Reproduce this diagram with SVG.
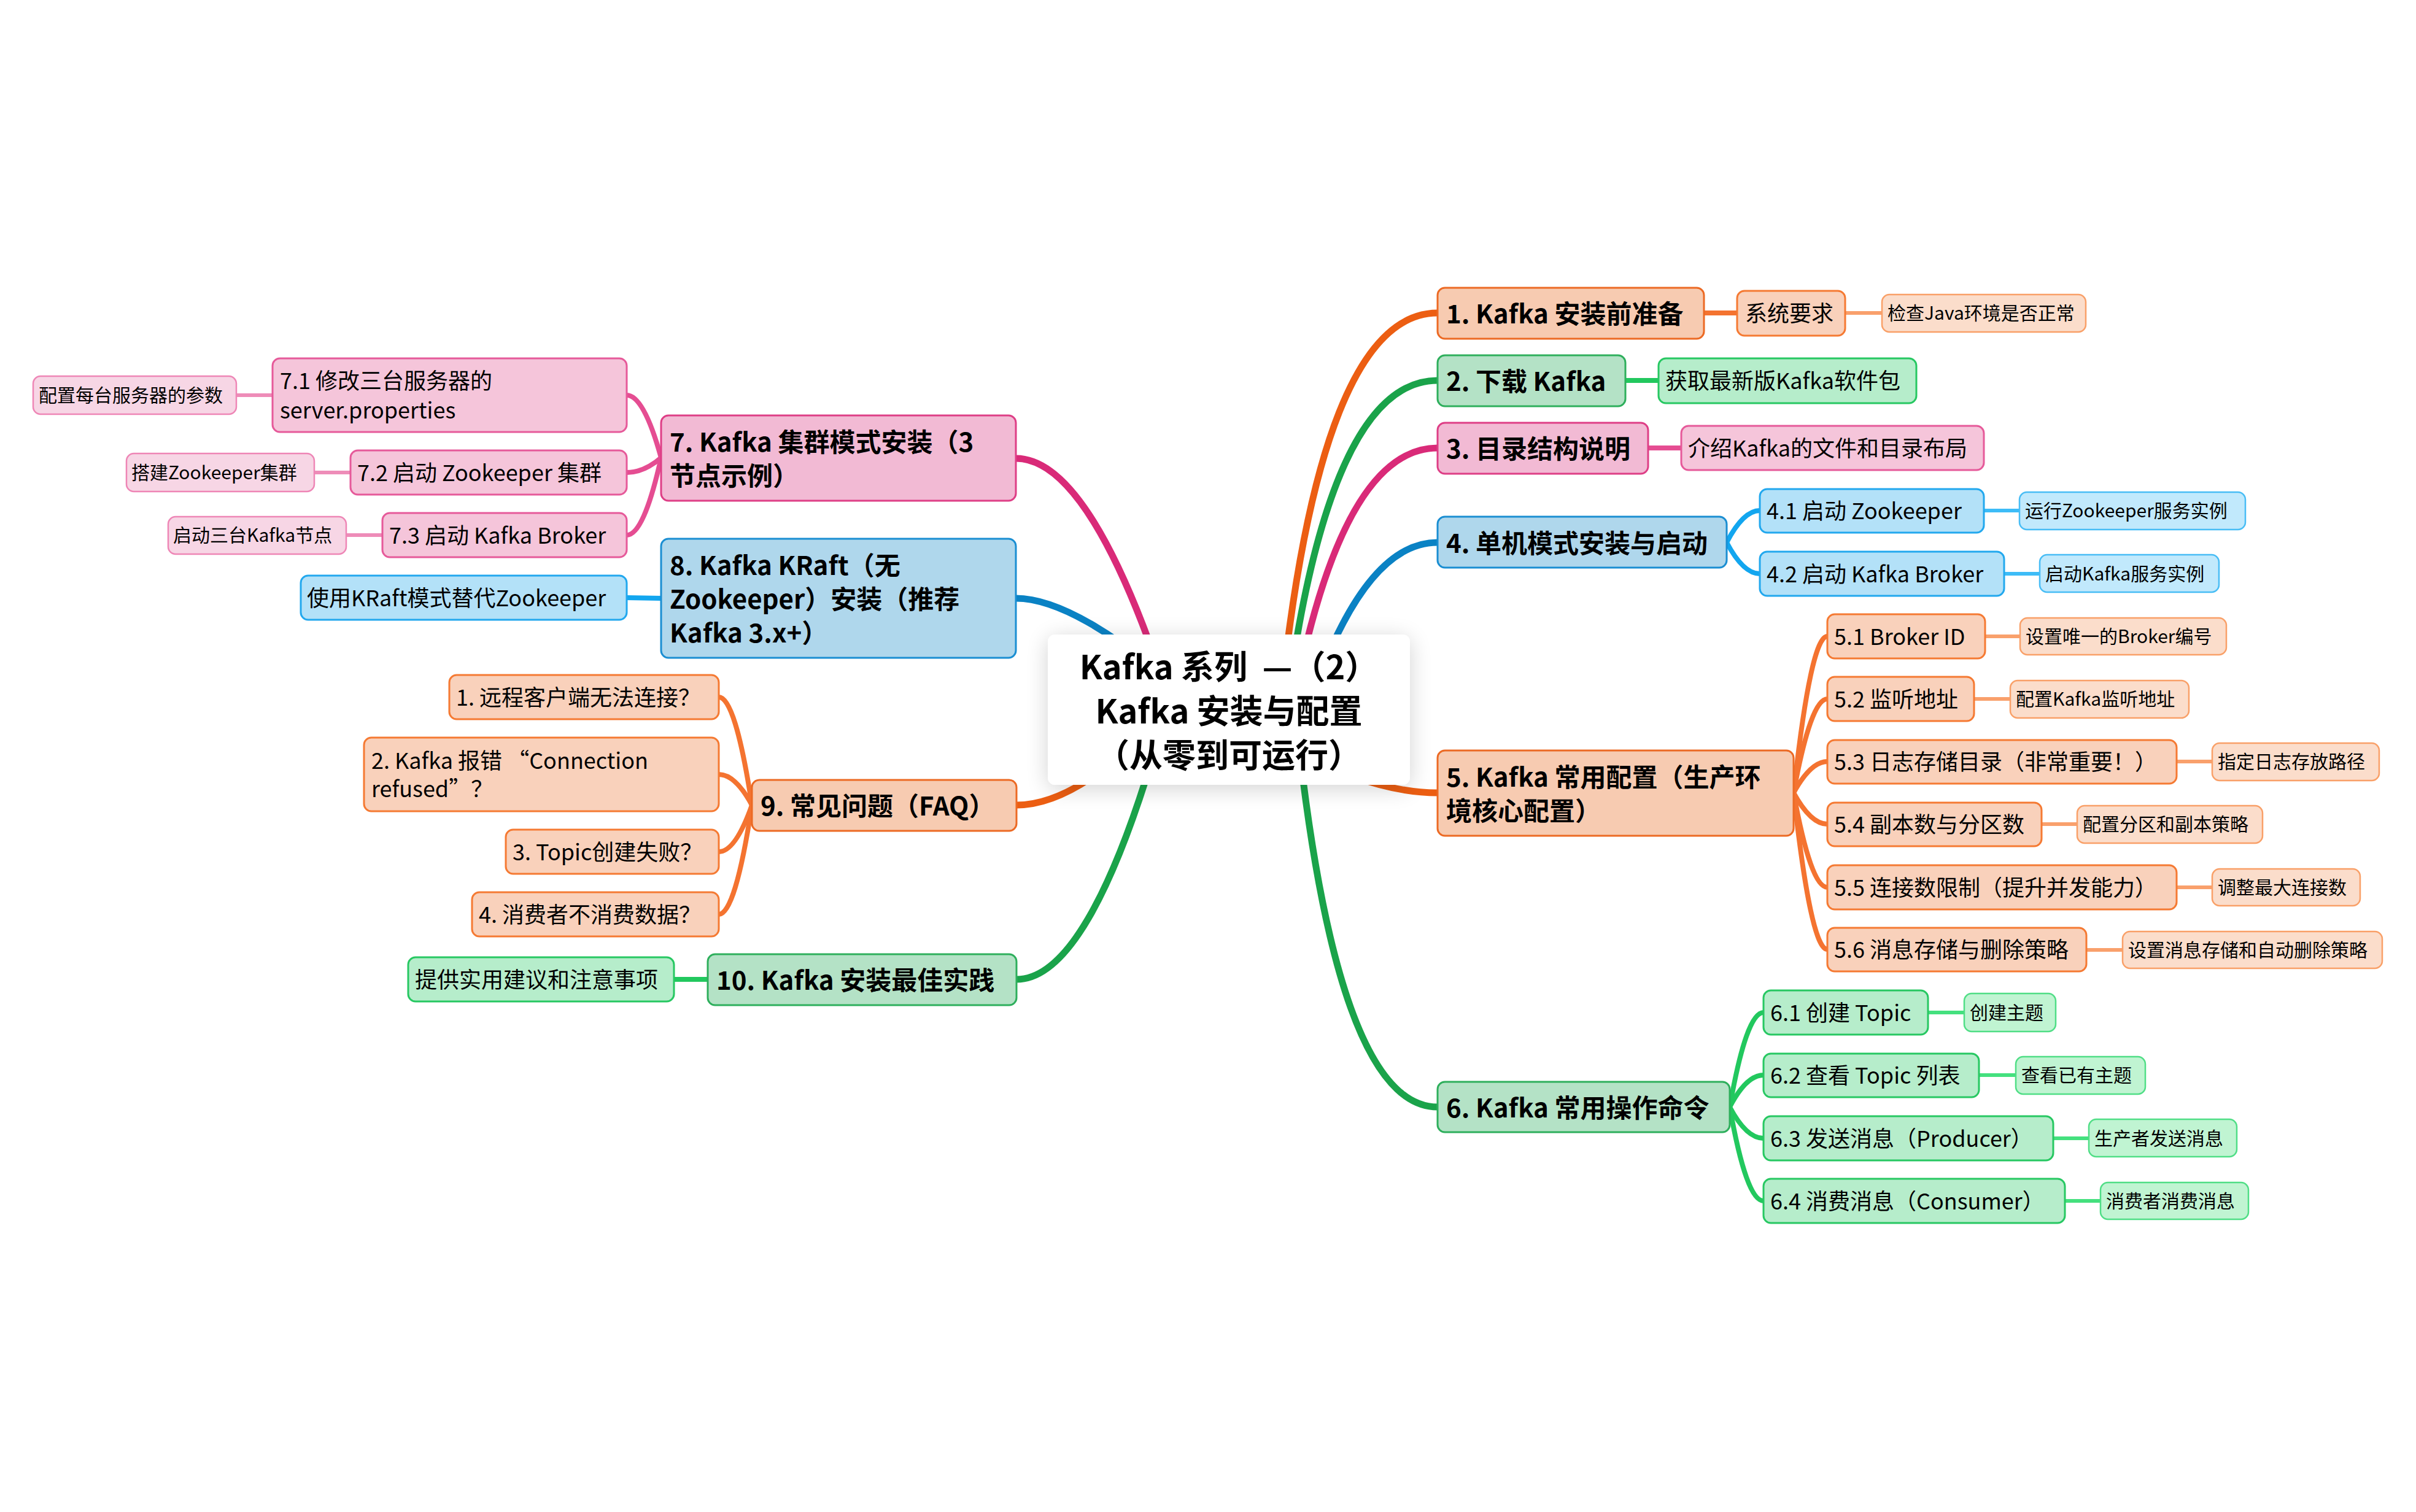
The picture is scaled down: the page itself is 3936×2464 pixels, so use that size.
<svg xmlns="http://www.w3.org/2000/svg" width="3936" height="2464" viewBox="0 0 3936 2464">
<defs>
<filter id="sh" x="-20%" y="-30%" width="140%" height="160%">
<feGaussianBlur in="SourceAlpha" stdDeviation="18"/>
<feOffset dx="0" dy="6"/>
<feComponentTransfer><feFuncA type="linear" slope="0.18"/></feComponentTransfer>
<feMerge><feMergeNode/><feMergeNode in="SourceGraphic"/></feMerge>
</filter>
</defs>
<style>
text{font-family:"Noto Sans CJK SC","Microsoft YaHei",sans-serif;fill:#000;dominant-baseline:central;transform:translate(0px,-2px)}
.t0{font-size:54px;font-weight:700;text-anchor:middle}
.t1{font-size:42px;font-weight:700}
.t2{font-size:36px}
.t3{font-size:30px}
rect{rx:12px;ry:12px}
.r1{stroke-width:3}
.r2{stroke-width:3}
.r3{stroke-width:2.5}
.o1{fill:#F7CBB1;stroke:#EC6A24}
.o2{fill:#F9D1BB;stroke:#F57A33}
.o3{fill:#FBDDCB;stroke:#F9A068}
.g1{fill:#B4E2C6;stroke:#2EAF5C}
.g2{fill:#B6EDCB;stroke:#27C862}
.g3{fill:#C0F4D2;stroke:#50DE86}
.p1{fill:#F2BAD4;stroke:#DE3E86}
.p2{fill:#F5C5DA;stroke:#E65A9A}
.p3{fill:#F7D6E5;stroke:#EE86B6}
.b1{fill:#AFD7EC;stroke:#1A8ED2}
.b2{fill:#B3E1F8;stroke:#22A8EE}
.b3{fill:#C1E9FC;stroke:#48BDF5}
path{fill:none;stroke-linecap:round}
.m{stroke-width:11}
.s{stroke-width:8}
.l{stroke-width:6;stroke-linecap:butt}
.mo{stroke:#EC5E12}.so{stroke:#F47330}.lo{stroke:#F9A06C}
.mg{stroke:#1AA34A}.sg{stroke:#22C85E}.lg{stroke:#44E07E}
.mp{stroke:#D92A78}.sp{stroke:#E54D92}.lp{stroke:#EE8CB8}
.mb{stroke:#0A82C4}.sb{stroke:#12A6EF}.lb{stroke:#3DBCF7}
</style>
<rect x="0" y="0" width="3936" height="2464" fill="#FFFFFF" rx="0" ry="0"/>
<g id="connectors">
<path class="m mo" d="M2085,1157 Q2150,510 2342,510"/>
<path class="m mg" d="M2095,1157 Q2165,620 2342,620"/>
<path class="m mp" d="M2105,1157 Q2185,730 2342,730"/>
<path class="m mb" d="M2130,1157 Q2220,884 2342,884"/>
<path class="m mo" d="M2002,1157 Q2200,1292 2342,1292"/>
<path class="m mg" d="M2110,1157 Q2175,1804 2342,1804"/>
<path class="m mp" d="M1910,1157 Q1780,747 1655,747"/>
<path class="m mb" d="M1960,1157 Q1760,975 1655,975"/>
<path class="m mo" d="M1900,1157 Q1760,1312 1656,1312"/>
<path class="m mg" d="M1900,1157 Q1780,1596 1656,1596"/>
<path class="s so" d="M2776,510 L2830,510"/>
<path class="l lo" d="M3006,510 L3066,510"/>
<path class="s sg" d="M2648,620 L2702,620"/>
<path class="s sp" d="M2685,730 L2739,730"/>
<path class="s sb" d="M2813,884 Q2840,832 2867,832"/>
<path class="s sb" d="M2813,884 Q2840,935 2867,935"/>
<path class="l lb" d="M3232,832 L3290,832"/>
<path class="l lb" d="M3265,935 L3323,935"/>
<path class="s so" d="M2922,1292 Q2950,1037 2977,1037"/>
<path class="s so" d="M2922,1292 Q2950,1139 2977,1139"/>
<path class="s so" d="M2922,1292 Q2950,1241 2977,1241"/>
<path class="s so" d="M2922,1292 Q2950,1343 2977,1343"/>
<path class="s so" d="M2922,1292 Q2950,1446 2977,1446"/>
<path class="s so" d="M2922,1292 Q2950,1547 2977,1547"/>
<path class="l lo" d="M3234,1037 L3291,1037"/>
<path class="l lo" d="M3216,1139 L3275,1139"/>
<path class="l lo" d="M3546,1241 L3604,1241"/>
<path class="l lo" d="M3326,1343 L3384,1343"/>
<path class="l lo" d="M3546,1446 L3604,1446"/>
<path class="l lo" d="M3399,1548 L3458,1548"/>
<path class="s sg" d="M2818,1804 Q2845,1650 2873,1650"/>
<path class="s sg" d="M2818,1804 Q2845,1752 2873,1752"/>
<path class="s sg" d="M2818,1804 Q2845,1855 2873,1855"/>
<path class="s sg" d="M2818,1804 Q2845,1957 2873,1957"/>
<path class="l lg" d="M3141,1650 L3200,1650"/>
<path class="l lg" d="M3224,1752 L3284,1752"/>
<path class="l lg" d="M3345,1855 L3403,1855"/>
<path class="l lg" d="M3364,1957 L3422,1957"/>
<path class="s sp" d="M1077,746 Q1049,644 1021,644"/>
<path class="s sp" d="M1077,746 Q1049,770 1021,770"/>
<path class="s sp" d="M1077,746 Q1049,872 1021,872"/>
<path class="l lp" d="M444,644 L385,644"/>
<path class="l lp" d="M571,770 L512,770"/>
<path class="l lp" d="M623,872 L564,872"/>
<path class="s sb" d="M1077,975 L1021,974"/>
<path class="s so" d="M1225,1312 Q1198,1136 1171,1136"/>
<path class="s so" d="M1225,1312 Q1198,1262 1171,1262"/>
<path class="s so" d="M1225,1312 Q1198,1388 1171,1388"/>
<path class="s so" d="M1225,1312 Q1198,1490 1171,1490"/>
<path class="s sg" d="M1153,1596 L1098,1596"/>
</g>
<g id="center">
<rect x="1707" y="1034" width="590" height="245" rx="30" ry="30" fill="#FFFFFF" filter="url(#sh)"/>
<text class="t0" x="2002" y="1085" xml:space="preserve">Kafka 系列  —（2）</text>
<text class="t0" x="2002" y="1157">Kafka 安装与配置</text>
<text class="t0" x="2002" y="1229">（从零到可运行）</text>
</g>
<g id="n1"><rect class="r1 o1" x="2342" y="469" width="434" height="83"/><text class="t1" x="2356" y="510">1. Kafka 安装前准备</text></g>
<g id="n1-1"><rect class="r2 o2" x="2830" y="474" width="176" height="73"/><text class="t2" x="2843" y="510">系统要求</text></g>
<g id="n1-1-1"><rect class="r3 o3" x="3066" y="480" width="332" height="61"/><text class="t3" x="3075" y="510">检查Java环境是否正常</text></g>
<g id="n2"><rect class="r1 g1" x="2342" y="579" width="306" height="83"/><text class="t1" x="2356" y="620">2. 下载 Kafka</text></g>
<g id="n2-1"><rect class="r2 g2" x="2702" y="584" width="420" height="73"/><text class="t2" x="2713" y="620">获取最新版Kafka软件包</text></g>
<g id="n3"><rect class="r1 p1" x="2342" y="689" width="343" height="83"/><text class="t1" x="2356" y="730">3. 目录结构说明</text></g>
<g id="n3-1"><rect class="r2 p2" x="2739" y="694" width="493" height="72"/><text class="t2" x="2750" y="730">介绍Kafka的文件和目录布局</text></g>
<g id="n4"><rect class="r1 b1" x="2342" y="842" width="471" height="83"/><text class="t1" x="2356" y="884">4. 单机模式安装与启动</text></g>
<g id="n4-1"><rect class="r2 b2" x="2867" y="797" width="365" height="71"/><text class="t2" x="2878" y="832">4.1 启动 Zookeeper</text></g>
<g id="n4-1-1"><rect class="r3 b3" x="3290" y="802" width="368" height="61"/><text class="t3" x="3299" y="832">运行Zookeeper服务实例</text></g>
<g id="n4-2"><rect class="r2 b2" x="2867" y="899" width="398" height="72"/><text class="t2" x="2878" y="935">4.2 启动 Kafka Broker</text></g>
<g id="n4-2-1"><rect class="r3 b3" x="3323" y="904" width="292" height="61"/><text class="t3" x="3332" y="935">启动Kafka服务实例</text></g>
<g id="n5"><rect class="r1 o1" x="2342" y="1223" width="580" height="139"/><text class="t1" x="2356" y="1265">5. Kafka 常用配置（生产环</text><text class="t1" x="2356" y="1320">境核心配置）</text></g>
<g id="n5-1"><rect class="r2 o2" x="2977" y="1001" width="257" height="72"/><text class="t2" x="2988" y="1037">5.1 Broker ID</text></g>
<g id="n5-1-1"><rect class="r3 o3" x="3291" y="1007" width="336" height="60"/><text class="t3" x="3300" y="1037">设置唯一的Broker编号</text></g>
<g id="n5-2"><rect class="r2 o2" x="2977" y="1103" width="239" height="72"/><text class="t2" x="2988" y="1139">5.2 监听地址</text></g>
<g id="n5-2-1"><rect class="r3 o3" x="3275" y="1109" width="291" height="61"/><text class="t3" x="3284" y="1139">配置Kafka监听地址</text></g>
<g id="n5-3"><rect class="r2 o2" x="2977" y="1206" width="569" height="71"/><text class="t2" x="2988" y="1241">5.3 日志存储目录（非常重要！）</text></g>
<g id="n5-3-1"><rect class="r3 o3" x="3604" y="1211" width="272" height="61"/><text class="t3" x="3613" y="1241">指定日志存放路径</text></g>
<g id="n5-4"><rect class="r2 o2" x="2977" y="1308" width="349" height="71"/><text class="t2" x="2988" y="1343">5.4 副本数与分区数</text></g>
<g id="n5-4-1"><rect class="r3 o3" x="3384" y="1313" width="302" height="61"/><text class="t3" x="3393" y="1343">配置分区和副本策略</text></g>
<g id="n5-5"><rect class="r2 o2" x="2977" y="1410" width="569" height="72"/><text class="t2" x="2988" y="1446">5.5 连接数限制（提升并发能力）</text></g>
<g id="n5-5-1"><rect class="r3 o3" x="3604" y="1416" width="241" height="60"/><text class="t3" x="3613" y="1446">调整最大连接数</text></g>
<g id="n5-6"><rect class="r2 o2" x="2977" y="1512" width="422" height="71"/><text class="t2" x="2988" y="1547">5.6 消息存储与删除策略</text></g>
<g id="n5-6-1"><rect class="r3 o3" x="3458" y="1518" width="423" height="60"/><text class="t3" x="3467" y="1548">设置消息存储和自动删除策略</text></g>
<g id="n6"><rect class="r1 g1" x="2342" y="1763" width="476" height="82"/><text class="t1" x="2356" y="1804">6. Kafka 常用操作命令</text></g>
<g id="n6-1"><rect class="r2 g2" x="2873" y="1614" width="268" height="72"/><text class="t2" x="2884" y="1650">6.1 创建 Topic</text></g>
<g id="n6-1-1"><rect class="r3 g3" x="3200" y="1619" width="149" height="62"/><text class="t3" x="3209" y="1650">创建主题</text></g>
<g id="n6-2"><rect class="r2 g2" x="2873" y="1717" width="351" height="71"/><text class="t2" x="2884" y="1752">6.2 查看 Topic 列表</text></g>
<g id="n6-2-1"><rect class="r3 g3" x="3284" y="1722" width="211" height="61"/><text class="t3" x="3293" y="1752">查看已有主题</text></g>
<g id="n6-3"><rect class="r2 g2" x="2873" y="1819" width="472" height="72"/><text class="t2" x="2884" y="1855">6.3 发送消息（Producer）</text></g>
<g id="n6-3-1"><rect class="r3 g3" x="3403" y="1824" width="241" height="61"/><text class="t3" x="3412" y="1855">生产者发送消息</text></g>
<g id="n6-4"><rect class="r2 g2" x="2873" y="1921" width="491" height="72"/><text class="t2" x="2884" y="1957">6.4 消费消息（Consumer）</text></g>
<g id="n6-4-1"><rect class="r3 g3" x="3422" y="1927" width="241" height="60"/><text class="t3" x="3431" y="1957">消费者消费消息</text></g>
<g id="n7"><rect class="r1 p1" x="1077" y="677" width="578" height="139"/><text class="t1" x="1091" y="719">7. Kafka 集群模式安装（3</text><text class="t1" x="1091" y="774">节点示例）</text></g>
<g id="n7-1"><rect class="r2 p2" x="444" y="584" width="577" height="120"/><text class="t2" x="456" y="620">7.1 修改三台服务器的</text><text class="t2" x="456" y="668">server.properties</text></g>
<g id="n7-1-1"><rect class="r3 p3" x="54" y="613" width="331" height="62"/><text class="t3" x="63" y="644">配置每台服务器的参数</text></g>
<g id="n7-2"><rect class="r2 p2" x="571" y="734" width="450" height="72"/><text class="t2" x="582" y="770">7.2 启动 Zookeeper 集群</text></g>
<g id="n7-2-1"><rect class="r3 p3" x="206" y="739" width="306" height="62"/><text class="t3" x="214" y="770">搭建Zookeeper集群</text></g>
<g id="n7-3"><rect class="r2 p2" x="623" y="836" width="398" height="72"/><text class="t2" x="634" y="872">7.3 启动 Kafka Broker</text></g>
<g id="n7-3-1"><rect class="r3 p3" x="274" y="842" width="290" height="61"/><text class="t3" x="282" y="872">启动三台Kafka节点</text></g>
<g id="n8"><rect class="r1 b1" x="1077" y="878" width="578" height="194"/><text class="t1" x="1091" y="920">8. Kafka KRaft（无</text><text class="t1" x="1091" y="975">Zookeeper）安装（推荐</text><text class="t1" x="1091" y="1030">Kafka 3.x+）</text></g>
<g id="n8-1"><rect class="r2 b2" x="490" y="938" width="531" height="72"/><text class="t2" x="500" y="974">使用KRaft模式替代Zookeeper</text></g>
<g id="n9"><rect class="r1 o1" x="1225" y="1271" width="431" height="83"/><text class="t1" x="1239" y="1312">9. 常见问题（FAQ）</text></g>
<g id="n9-1"><rect class="r2 o2" x="732" y="1100" width="439" height="72"/><text class="t2" x="743" y="1136">1. 远程客户端无法连接？</text></g>
<g id="n9-2"><rect class="r2 o2" x="593" y="1202" width="578" height="120"/><text class="t2" x="605" y="1239">2. Kafka 报错 “Connection</text><text class="t2" x="605" y="1285">refused”？</text></g>
<g id="n9-3"><rect class="r2 o2" x="824" y="1352" width="347" height="72"/><text class="t2" x="835" y="1388">3. Topic创建失败？</text></g>
<g id="n9-4"><rect class="r2 o2" x="769" y="1454" width="402" height="72"/><text class="t2" x="780" y="1490">4. 消费者不消费数据？</text></g>
<g id="n10"><rect class="r1 g1" x="1153" y="1555" width="503" height="83"/><text class="t1" x="1167" y="1596">10. Kafka 安装最佳实践</text></g>
<g id="n10-1"><rect class="r2 g2" x="665" y="1560" width="433" height="72"/><text class="t2" x="676" y="1596">提供实用建议和注意事项</text></g>
</svg>
